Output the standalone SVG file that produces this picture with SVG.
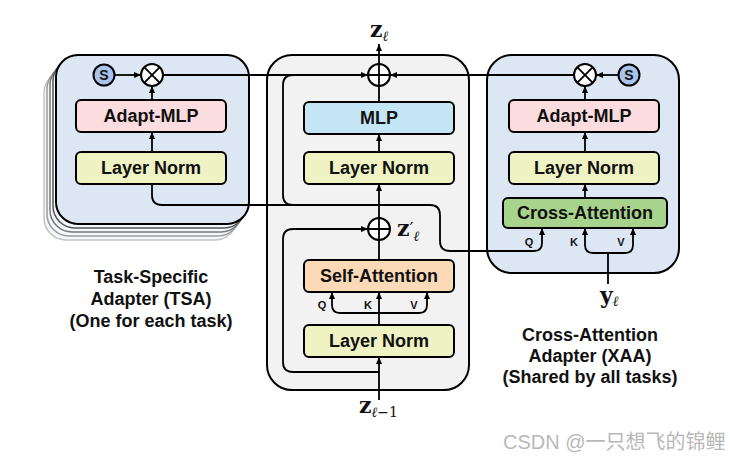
<svg xmlns="http://www.w3.org/2000/svg" width="730" height="462" viewBox="0 0 730 462">
<defs>
<marker id="ah" markerUnits="userSpaceOnUse" markerWidth="7" markerHeight="6" refX="7" refY="3" orient="auto"><path d="M0,0 L7,3 L0,6 z" fill="#000"/></marker>
<style>
.panel{stroke:#000;stroke-width:2}
.blue{fill:#dde7f3}
.grey{fill:#f2f2f2}
.shadow{fill:#f4f7fb;stroke-width:1.5}
.box{stroke:#000;stroke-width:2}
.ln{fill:#eff2c2}
.amlp{fill:#fbdcdf}
.mlp{fill:#c4e5f5}
.sa{fill:#fcdab7}
.ca{fill:#a8d38c}
.bt{font-family:"Liberation Sans",Arial,sans-serif;font-weight:bold;font-size:18px;text-anchor:middle;fill:#111}
.qkv{font-family:"Liberation Sans",Arial,sans-serif;font-weight:bold;font-size:11px;text-anchor:middle;fill:#111}
.cap{font-family:"Liberation Sans",Arial,sans-serif;font-weight:bold;font-size:18px;text-anchor:middle;fill:#111}
.w{fill:none;stroke:#000;stroke-width:1.8}
.a{fill:none;stroke:#000;stroke-width:1.8;marker-end:url(#ah)}
.op{fill:#fff;stroke:#000;stroke-width:2}
.s{fill:#a9c3ea;stroke:#000;stroke-width:2}
.mz{font-family:"DejaVu Serif",serif;font-weight:bold;font-size:22px;fill:#111}
.ms{font-family:"DejaVu Serif",serif;font-style:italic;font-size:14px;fill:#111}
.mn{font-family:"DejaVu Serif",serif;font-size:14px;fill:#111}
.pr{font-family:"DejaVu Sans",sans-serif;font-size:18px;fill:#111}
</style>
</defs>
<rect width="730" height="462" fill="#fff"/>

<g id="tsa-panel">
<rect class="shadow" x="44" y="71" width="193" height="169" rx="22" stroke="#c4c4c4"/>
<rect class="shadow" x="47" y="67" width="193" height="169" rx="22" stroke="#9c9c9c"/>
<rect class="shadow" x="50" y="63" width="193" height="169" rx="22" stroke="#777"/>
<rect class="shadow" x="53" y="59" width="193" height="169" rx="22" stroke="#555"/>
<rect class="panel blue" x="56" y="55" width="193" height="169" rx="22"/>
</g>
<g id="mid-panel"><rect class="panel grey" x="267" y="55" width="202" height="335" rx="25"/></g>
<g id="xaa-panel"><rect class="panel blue" x="487" y="55" width="192" height="218" rx="25"/></g>

<g id="connectors">
<line class="a" x1="115" y1="75" x2="141" y2="75"/>
<line class="a" x1="152" y1="100" x2="152" y2="86"/>
<line class="a" x1="152" y1="152" x2="152" y2="132"/>
<line class="a" x1="163" y1="75" x2="368" y2="75"/>
<path class="w" d="M152,184 V195 Q152,205 162,205 H379"/>
<path class="w" d="M379,205 H293 Q283,205 283,195 V85 Q283,75 293,75"/>
<line class="w" x1="379" y1="102" x2="379" y2="86"/>
<line class="a" x1="379" y1="152" x2="379" y2="134"/>
<line class="a" x1="379" y1="218" x2="379" y2="184"/>
<line class="a" x1="379" y1="64" x2="379" y2="44"/>
<line class="w" x1="379" y1="260" x2="379" y2="240"/>
<line class="a" x1="379" y1="325" x2="379" y2="292"/>
<path class="a" d="M379,313 H340 Q332,313 332,305 V292"/>
<path class="a" d="M379,313 H419 Q427,313 427,305 V292"/>
<line class="a" x1="379" y1="400" x2="379" y2="357"/>
<path class="a" d="M379,372 H293 Q283,372 283,362 V239 Q283,229 293,229 H368"/>
<path class="a" d="M379,205 H430 Q440,205 440,215 V241 Q440,251 450,251 H534 Q542,251 542,243 V228"/>
<line class="w" x1="608" y1="284" x2="608" y2="253"/>
<path class="a" d="M608,253 H593 Q585,253 585,245 V228"/>
<path class="a" d="M608,253 H625 Q633,253 633,245 V228"/>
<line class="a" x1="585" y1="198" x2="585" y2="184"/>
<line class="a" x1="585" y1="152" x2="585" y2="132"/>
<line class="a" x1="585" y1="100" x2="585" y2="86"/>
<line class="a" x1="618" y1="75" x2="596" y2="75"/>
<line class="a" x1="574" y1="75" x2="390" y2="75"/>
</g>

<g id="tsa-s"><circle class="s" cx="104" cy="75" r="10.5"/><text class="qkv" x="104" y="80" style="font-size:14px">S</text></g>
<g id="tsa-mul"><circle class="op" cx="152" cy="75" r="11"/><path class="w" d="M144.2,67.2 L159.8,82.8 M159.8,67.2 L144.2,82.8"/></g>
<g id="tsa-adapt-mlp"><rect class="box amlp" x="76" y="100" width="150" height="32" rx="5"/><text class="bt" x="151" y="122">Adapt-MLP</text></g>
<g id="tsa-layer-norm"><rect class="box ln" x="76" y="152" width="150" height="32" rx="5"/><text class="bt" x="151" y="174">Layer Norm</text></g>

<g id="mid-add-top"><circle class="op" cx="379" cy="75" r="11"/><path class="w" d="M379,64 V86 M368,75 H390"/></g>
<g id="mid-mlp"><rect class="box mlp" x="304" y="102" width="150" height="32" rx="5"/><text class="bt" x="379" y="124">MLP</text></g>
<g id="mid-layer-norm-top"><rect class="box ln" x="304" y="152" width="150" height="32" rx="5"/><text class="bt" x="379" y="174">Layer Norm</text></g>
<g id="mid-add-bottom"><circle class="op" cx="379" cy="229" r="11"/><path class="w" d="M379,218 V240 M368,229 H390"/></g>
<g id="mid-self-attention"><rect class="box sa" x="304" y="260" width="150" height="32" rx="5"/><text class="bt" x="379" y="282">Self-Attention</text>
<text class="qkv" x="322" y="309">Q</text><text class="qkv" x="368" y="309">K</text><text class="qkv" x="414" y="309">V</text></g>
<g id="mid-layer-norm-bottom"><rect class="box ln" x="304" y="325" width="150" height="32" rx="5"/><text class="bt" x="379" y="347">Layer Norm</text></g>

<g id="xaa-mul"><circle class="op" cx="585" cy="75" r="11"/><path class="w" d="M577.2,67.2 L592.8,82.8 M592.8,67.2 L577.2,82.8"/></g>
<g id="xaa-s"><circle class="s" cx="629" cy="75" r="10.5"/><text class="qkv" x="629" y="80" style="font-size:14px">S</text></g>
<g id="xaa-adapt-mlp"><rect class="box amlp" x="509" y="100" width="150" height="32" rx="5"/><text class="bt" x="584" y="122">Adapt-MLP</text></g>
<g id="xaa-layer-norm"><rect class="box ln" x="509" y="152" width="150" height="32" rx="5"/><text class="bt" x="584" y="174">Layer Norm</text></g>
<g id="xaa-cross-attention"><rect class="box ca" x="503" y="198" width="164" height="30" rx="5"/><text class="bt" x="585" y="219">Cross-Attention</text>
<text class="qkv" x="529" y="246">Q</text><text class="qkv" x="574" y="246">K</text><text class="qkv" x="621" y="246">V</text></g>

<g id="math-labels">
<text x="370" y="37"><tspan class="mz">z</tspan><tspan class="ms" dy="4">ℓ</tspan></text>
<text x="397" y="236"><tspan class="mz">z</tspan><tspan class="pr" dy="-1">′</tspan><tspan class="ms" dy="6">ℓ</tspan></text>
<text x="359" y="413"><tspan class="mz">z</tspan><tspan class="ms" dy="4">ℓ</tspan><tspan class="mn">−1</tspan></text>
<text x="600" y="303"><tspan class="mz">y</tspan><tspan class="ms" dy="3">ℓ</tspan></text>
</g>

<g id="captions">
<text class="cap" x="151" y="283">Task-Specific</text>
<text class="cap" x="151" y="305">Adapter (TSA)</text>
<text class="cap" x="151" y="327">(One for each task)</text>
<text class="cap" x="590" y="341">Cross-Attention</text>
<text class="cap" x="590" y="362">Adapter (XAA)</text>
<text class="cap" x="590" y="383">(Shared by all tasks)</text>
</g>
<text x="503" y="449" style="font-family:'Liberation Sans','Noto Sans CJK SC',sans-serif;font-size:20px;fill:#b8b8b8">CSDN @一只想飞的锦鲤</text>
</svg>
